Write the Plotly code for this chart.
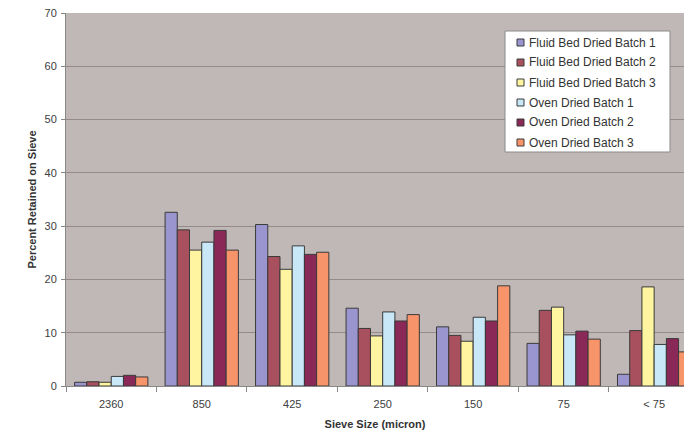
import plotly.graph_objects as go

categories = ["2360", "850", "425", "250", "150", "75", "< 75"]
series_names = ["Fluid Bed Dried Batch 1", "Fluid Bed Dried Batch 2", "Fluid Bed Dried Batch 3",
                "Oven Dried Batch 1", "Oven Dried Batch 2", "Oven Dried Batch 3"]
fb1 = [0.7, 32.6, 30.3, 14.6, 11.1, 8.0, 2.2]
fb2 = [0.8, 29.3, 24.3, 10.8, 9.5, 14.2, 10.4]
fb3 = [0.7, 25.5, 21.9, 9.4, 8.4, 14.8, 18.6]
ov1 = [1.8, 27.0, 26.3, 13.9, 12.9, 9.6, 7.8]
ov2 = [2.0, 29.2, 24.7, 12.2, 12.2, 10.3, 8.9]
ov3 = [1.7, 25.5, 25.1, 13.4, 18.8, 8.8, 6.4]
series_values = [fb1, fb2, fb3, ov1, ov2, ov3]
colors = ["#9A95CE", "#A8505E", "#FFF5A0", "#C8E8F8", "#8A2858", "#F8946A"]

W, H = 684, 437
ML, MR, MT, MB = 66, 0, 13, 51
PW, PH = W - ML - MR, H - MT - MB

def px_x(x):
    return (x - ML) / PW

def px_y(y):
    return (H - MB - y) / PH

fig = go.Figure()
for name, vals, col in zip(series_names, series_values, colors):
    fig.add_trace(go.Bar(x=categories, y=vals, name=name, showlegend=False,
                         marker=dict(color=col, line=dict(color="#3a3a3a", width=1))))

# custom legend (box, swatches, labels)
shapes = [dict(type="rect", xref="paper", yref="paper",
               x0=px_x(505), x1=px_x(670), y0=px_y(152), y1=px_y(31),
               fillcolor="white", line=dict(color="#8a8a8a", width=1), layer="above")]
annotations = []
for i, (name, col) in enumerate(zip(series_names, colors)):
    cy = 42.5 + i * 20.0
    shapes.append(dict(type="rect", xref="paper", yref="paper",
                       x0=px_x(517), x1=px_x(524), y0=px_y(cy + 3.5), y1=px_y(cy - 3.5),
                       fillcolor=col, line=dict(color="#3a3a3a", width=1), layer="above"))
    annotations.append(dict(xref="paper", yref="paper", x=px_x(527), y=px_y(cy),
                            xanchor="left", yanchor="middle", showarrow=False,
                            text=name, font=dict(size=12, color="#333333")))

fig.update_layout(
    width=W, height=H,
    margin=dict(l=ML, r=MR, t=MT, b=MB),
    paper_bgcolor="white", plot_bgcolor="#C0B8B6",
    barmode="group", bargap=0.19, bargroupgap=0,
    font=dict(family="Liberation Sans, Arial, sans-serif", size=11, color="#404040"),
    showlegend=False,
    shapes=shapes, annotations=annotations,
    xaxis=dict(range=[-0.5, 6.33], type="category", tickson="boundaries",
               ticks="outside", ticklen=5, tickcolor="#888888", automargin=False,
               ticklabelstandoff=8,
               showline=True, linecolor="#888888", showgrid=False,
               title=dict(text="<b>Sieve Size (micron)</b>", standoff=11,
                          font=dict(size=11, color="#333333"))),
    yaxis=dict(range=[0, 70], dtick=10, ticks="outside", ticklen=4, tickcolor="#888888",
               showline=True, linecolor="#888888", gridcolor="#948A8A", gridwidth=1,
               zeroline=False, automargin=False, ticklabelstandoff=2,
               title=dict(text="<b>Percent Retained on Sieve</b>", standoff=5,
                          font=dict(size=11, color="#333333"))),
)

fig.write_html("out.html", config={"displayModeBar": False},
               post_script="document.body.style.margin='0';")
